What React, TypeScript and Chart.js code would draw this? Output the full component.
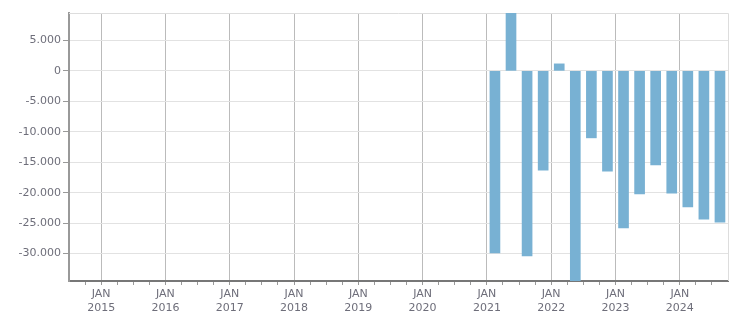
import React, { useEffect, useRef } from "react";
import { Chart, registerables } from "chart.js";

Chart.register(...registerables);

// Quarter index: 0 = Q1 2015 (JAN 2015)
const quarterIndex: number[] = [24, 25, 26, 27, 28, 29, 30, 31, 32, 33, 34, 35, 36, 37, 38];
const values: number[] = [
  -29900, 9500, -30400, -16300, 1150, -34500, -11000, -16450, -25800, -20200, -15450, -20100, -22350,
  -24350, -24850,
];
const yearLabels: string[] = ["2015", "2016", "2017", "2018", "2019", "2020", "2021", "2022", "2023", "2024"];
const monthLabel = "JAN";
const yTickValues: number[] = [-30000, -25000, -20000, -15000, -10000, -5000, 0, 5000];

const X_MIN = -2;
const X_MAX = 39;
const Y_MIN = -34500;
const Y_MAX = 9500;

const fmt = (v: number) => {
  const r = Math.round(v);
  const s = Math.abs(r).toString().replace(/\B(?=(\d{3})+(?!\d))/g, ".");
  return (r < 0 ? "-" : "") + s;
};

const borderPlugin = {
  id: "borderPlugin",
  beforeDatasetsDraw(chart: any) {
    const { ctx, chartArea } = chart;
    ctx.save();
    ctx.strokeStyle = "#dddddd";
    ctx.lineWidth = 1;
    ctx.beginPath();
    ctx.moveTo(chartArea.left, chartArea.top + 0.5);
    ctx.lineTo(chartArea.right + 0.5, chartArea.top + 0.5);
    ctx.lineTo(chartArea.right + 0.5, chartArea.bottom);
    ctx.stroke();
    ctx.restore();
  },
};

export default function App() {
  const ref = useRef<HTMLCanvasElement>(null);
  useEffect(() => {
    if (!ref.current) return;
    const data = quarterIndex.map((q, i) => ({ x: q + 0.5, y: values[i] }));
    const font = { family: "DejaVu Sans", size: 11 };
    const chart = new Chart(ref.current, {
      type: "bar",
      data: {
        datasets: [
          {
            data,
            backgroundColor: "#78b1d3",
            barThickness: 10,
          },
        ],
      },
      plugins: [borderPlugin],
      options: {
        animation: false,
        responsive: false,
        maintainAspectRatio: false,
        layout: { padding: { top: 13, right: 23, left: 0, bottom: 0 } },
        plugins: { legend: { display: false }, tooltip: { enabled: false } },
        scales: {
          x: {
            type: "linear",
            min: X_MIN,
            max: X_MAX,
            offset: false,
            afterFit: (s: any) => {
              s.height = 32;
            },
            afterBuildTicks: (s: any) => {
              const t = [];
              for (let v = X_MIN; v <= X_MAX; v++) t.push({ value: v });
              s.ticks = t;
            },
            ticks: {
              autoSkip: false,
              maxRotation: 0,
              padding: 3,
              color: "#6e6e7a",
              font,
              callback: (v: any) => {
                const n = Number(v);
                if (n >= 0 && n % 4 === 0) {
                  const y = yearLabels[n / 4];
                  return y ? [monthLabel, y] : "";
                }
                return "";
              },
            },
            grid: {
              offset: false,
              color: (c: any) =>
                c.tick && c.tick.value >= 0 && c.tick.value % 4 === 0 && c.tick.value < X_MAX
                  ? "#bbbbbb"
                  : "rgba(0,0,0,0)",
              tickColor: (c: any) =>
                c.tick && c.tick.value > X_MIN && c.tick.value < X_MAX ? "#999999" : "rgba(0,0,0,0)",
              tickLength: 4,
              lineWidth: 1,
            },
            border: { color: "#777777", width: 2 },
          },
          y: {
            min: Y_MIN,
            max: Y_MAX,
            afterFit: (s: any) => {
              s.width = 69;
            },
            afterBuildTicks: (s: any) => {
              s.ticks = yTickValues.map((v) => ({ value: v }));
            },
            ticks: {
              autoSkip: false,
              color: "#6e6e7a",
              font,
              padding: 2,
              callback: (v: any) => fmt(Number(v)),
            },
            grid: {
              color: "#e2e2e2",
              tickColor: "#999999",
              tickLength: 6,
            },
            border: { color: "#999999", width: 2 },
          },
        },
      },
    });
    return () => chart.destroy();
  }, []);
  return (
    <div style={{ position: "fixed", left: 0, top: 0, width: 751, height: 313, background: "#fff" }}>
      <canvas ref={ref} width={751} height={313} style={{ width: 751, height: 313, display: "block" }} />
    </div>
  );
}
